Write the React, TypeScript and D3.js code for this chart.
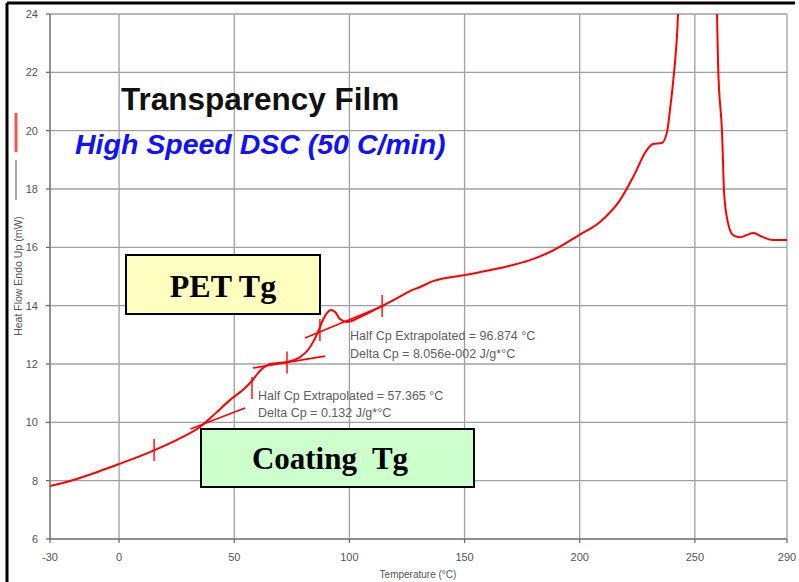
import React from "react";
import * as d3 from "d3";

// ---- Data ----
const temps = [
  -30, -21.3, -8.3, 0, 13.4, 26.4, 35.1, 41.6, 48.2, 54.7, 57.7, 60.3, 62.5, 65.5,
  72.9, 78.6, 82.0, 84.2, 86.4, 88.5, 90.3, 92.0, 93.8, 95.9, 99.0, 104.6, 113.3,
  120.7, 126.3, 130.7, 136.3, 150.2, 165.4, 178.4, 187.1, 199.7, 208.8, 217.5,
  223.2, 229.2, 231.8, 235.7, 237.9, 239.2, 240.5, 241.8, 242.7, 243.6, 251, 259.0,
  259.6, 260.1, 261.8, 262.7, 264.4, 266.6, 269.6, 275.3, 279.6, 283.9, 290,
];
const heatFlow = [
  7.82, 7.99, 8.33, 8.57, 8.98, 9.45, 9.84, 10.29, 10.77, 11.18, 11.42, 11.69, 11.86, 12.0,
  12.07, 12.24, 12.48, 12.75, 13.1, 13.51, 13.75, 13.85, 13.78, 13.54, 13.44, 13.61, 13.95,
  14.26, 14.5, 14.64, 14.84, 15.05, 15.29, 15.56, 15.84, 16.42, 16.87, 17.62,
  18.41, 19.34, 19.54, 19.58, 19.95, 20.71, 21.63, 22.76, 24.03, 27, 29, 27,
  24.03, 22.18, 19.92, 17.86, 16.83, 16.42, 16.35, 16.49, 16.35, 16.25, 16.25,
];

// tangent (baseline) lines: [T1, H1, T2, H2]
const tangentStartT = [31.0, 58.1, 80.7];
const tangentStartH = [9.77, 11.86, 12.89];
const tangentEndT = [54.7, 89.4, 115.5];
const tangentEndH = [10.49, 12.27, 14.02];

// onset / midpoint / end markers
const markerT = [15.2, 57.7, 72.9, 87.2, 114.2];
const markerH = [9.05, 11.18, 12.05, 13.17, 13.99];

const xTicks = [-30, 0, 50, 100, 150, 200, 250, 290];
const yTicks = [6, 8, 10, 12, 14, 16, 18, 20, 22, 24];

const title = "Transparency Film";
const subtitle = "High Speed DSC (50 C/min)";
const petLabel = "PET Tg";
const coatingLabel = "Coating  Tg";
const petAnnot = ["Half Cp Extrapolated = 96.874 °C", "Delta Cp = 8.056e-002 J/g*°C"];
const coatAnnot = ["Half Cp Extrapolated = 57.365 °C", "Delta Cp = 0.132 J/g*°C"];
const xLabel = "Temperature (°C)";
const yLabel = "Heat Flow Endo Up (mW)";

export default function App() {
  const W = 799, H = 582;
  const left = 50, right = 787, top = 14, bottom = 539;
  const x = d3.scaleLinear().domain([-30, 290]).range([left, right]);
  const y = d3.scaleLinear().domain([6, 24]).range([bottom, top]);

  const pts: [number, number][] = temps.map((t, i) => [t, heatFlow[i]]);
  const line = d3
    .line<[number, number]>()
    .x((d) => x(d[0]))
    .y((d) => y(d[1]))
    .curve(d3.curveMonotoneX);

  const sans = "Arial, 'Liberation Sans', sans-serif";
  const serif = "'Times New Roman', 'Liberation Serif', serif";
  const gridColor = "#a0a0a0";
  const labelColor = "#555";

  return (
    <div style={{ position: "fixed", left: 0, top: 0 }}>
      <svg width={W} height={H} viewBox={`0 0 ${W} ${H}`} style={{ display: "block", background: "#fff" }}>
        <defs>
          <clipPath id="plotClip">
            <rect x={left} y={top} width={right - left} height={bottom - top} />
          </clipPath>
        </defs>

        {/* outer frame (left & top visible) */}
        <line x1={7} y1={3} x2={795} y2={3} stroke="#000" strokeWidth={3} />
        <line x1={7} y1={3} x2={7} y2={582} stroke="#000" strokeWidth={3} />

        {/* grid */}
        {yTicks.map((v) => (
          <line key={"gy" + v} x1={left} x2={right} y1={y(v)} y2={y(v)} stroke={gridColor} strokeWidth={1.3} />
        ))}
        {xTicks.map((v) => (
          <line key={"gx" + v} x1={x(v)} x2={x(v)} y1={top} y2={bottom} stroke={gridColor} strokeWidth={1.3} />
        ))}

        {/* axes */}
        <line x1={left} x2={left} y1={top} y2={bottom} stroke="#808080" strokeWidth={1.5} />
        <line x1={left} x2={right} y1={bottom} y2={bottom} stroke="#808080" strokeWidth={1.5} />
        {yTicks.map((v) => (
          <g key={"ty" + v}>
            <line x1={left - 4} x2={left} y1={y(v)} y2={y(v)} stroke="#666" strokeWidth={1.2} />
            <text x={38} y={y(v) + 4} textAnchor="end" fontFamily={sans} fontSize={11} fill={labelColor}>
              {v}
            </text>
          </g>
        ))}
        {xTicks.map((v) => (
          <g key={"tx" + v}>
            <line x1={x(v)} x2={x(v)} y1={bottom} y2={bottom + 4} stroke="#666" strokeWidth={1.2} />
            <text x={x(v)} y={561} textAnchor="middle" fontFamily={sans} fontSize={11} fill={labelColor}>
              {v}
            </text>
          </g>
        ))}
        <text x={418} y={578} textAnchor="middle" fontFamily={sans} fontSize={10} fill={labelColor}>
          {xLabel}
        </text>
        <text
          transform={`translate(22, 276) rotate(-90)`}
          textAnchor="middle"
          fontFamily={sans}
          fontSize={10.5}
          fill={labelColor}
        >
          {yLabel}
        </text>

        {/* legend marks */}
        <line x1={16} x2={16} y1={113} y2={152} stroke="#ff5050" strokeWidth={3} />
        <line x1={16} x2={16} y1={160} y2={200} stroke="#555" strokeWidth={1} />

        {/* titles */}
        <text x={121} y={110} fontFamily={sans} fontWeight="bold" fontSize={31.5} fill="#111">
          {title}
        </text>
        <text x={75} y={154} fontFamily={sans} fontWeight="bold" fontStyle="italic" fontSize={28.5} fill="#1010ff">
          {subtitle}
        </text>

        {/* data */}
        <g clipPath="url(#plotClip)">
          <path d={line(pts) || ""} fill="none" stroke="#ff0000" strokeWidth={2} strokeLinejoin="round" />
          {tangentStartT.map((t, i) => (
            <line
              key={"tan" + i}
              x1={x(t)}
              y1={y(tangentStartH[i])}
              x2={x(tangentEndT[i])}
              y2={y(tangentEndH[i])}
              stroke="#ff0000"
              strokeWidth={1.6}
            />
          ))}
          {markerT.map((t, i) => (
            <line
              key={"mk" + i}
              x1={x(t)}
              x2={x(t)}
              y1={y(markerH[i]) - 11}
              y2={y(markerH[i]) + 11}
              stroke="#ff0000"
              strokeWidth={1.4}
            />
          ))}
        </g>

        {/* annotations */}
        {petAnnot.map((s, i) => (
          <text key={"pa" + i} x={350} y={340 + i * 18} fontFamily={sans} fontSize={12.5} fill="#606060">
            {s}
          </text>
        ))}
        {coatAnnot.map((s, i) => (
          <text key={"ca" + i} x={258} y={400 + i * 17} fontFamily={sans} fontSize={12.5} fill="#606060">
            {s}
          </text>
        ))}

        {/* label boxes */}
        <rect x={126} y={255} width={194} height={59} fill="#ffffc0" stroke="#000" strokeWidth={2} />
        <text x={223} y={297} textAnchor="middle" fontFamily={serif} fontWeight="bold" fontSize={32} fill="#000">
          {petLabel}
        </text>
        <rect x={201} y={429} width={273} height={58} fill="#ccffcc" stroke="#000" strokeWidth={2} />
        <text
          x={330}
          y={469}
          textAnchor="middle"
          fontFamily={serif}
          fontWeight="bold"
          fontSize={31}
          fill="#000"
          style={{ whiteSpace: "pre" }}
        >
          {coatingLabel}
        </text>
      </svg>
    </div>
  );
}
